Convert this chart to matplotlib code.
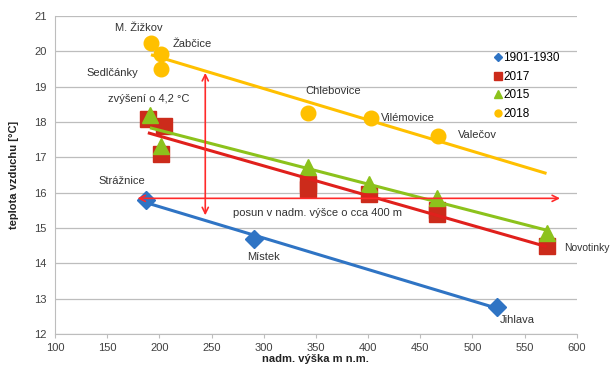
import numpy as np
import matplotlib
matplotlib.use("Agg")
import matplotlib.pyplot as plt
from matplotlib.lines import Line2D

plt.rcParams["font.family"] = ["Liberation Sans", "DejaVu Sans"]

# 1901-1930 (blue diamonds)
x_1901 = [187, 291, 524]
y_1901 = [15.8, 14.68, 12.76]
# 2017 (red squares)
x_2017 = [189, 204, 202, 342, 342, 401, 466, 466, 571]
y_2017 = [18.08, 17.88, 17.09, 16.25, 16.1, 15.96, 15.5, 15.4, 14.5]
# 2015 (green triangles)
x_2015 = [191, 202, 342, 401, 466, 571]
y_2015 = [18.2, 17.32, 16.72, 16.25, 15.85, 14.85]
# 2018 (yellow circles)
x_2018 = [192, 202, 202, 342, 403, 467]
y_2018 = [20.24, 19.92, 19.5, 18.25, 18.1, 17.6]
trend_end_2018 = 571  # Excel trendline extended forward

station_labels = [
    ("M. Žižkov", 180, 20.66, "center", 8),
    ("Žabčice", 213, 20.2, "left", 8),
    ("Sedlčánky", 155, 19.39, "center", 8),
    ("zvýšení o 4,2 °C", 190, 18.65, "center", 8),
    ("Strážnice", 164, 16.33, "center", 8),
    ("Místek", 300, 14.17, "center", 8),
    ("Jihlava", 543, 12.4, "center", 8),
    ("Novotinky", 588, 14.43, "left", 7.5),
    ("Chlebovice", 367, 18.87, "center", 8),
    ("Vilémovice", 412, 18.1, "left", 8),
    ("Valečov", 486, 17.63, "left", 8),
    ("posun v nadm. výšce o cca 400 m", 271, 15.42, "left", 8),
]

# red annotation arrows (data coords)
shift_arrow = ((179, 15.84), (584, 15.84))
rise_arrow = ((244, 15.36), (244, 19.39))

BLUE = "#2F74C4"
RED_M = "#CC2B1B"
RED_L = "#E0201C"
GREEN = "#8CC21C"
YELLOW = "#FFC000"
ARROW = "#FF2A2A"

fig = plt.figure(figsize=(6.11, 3.68), dpi=100)
ax = fig.add_axes([0.090, 0.0924, 0.854, 0.864])

series = [
    (x_1901, y_1901, "D", 9, BLUE, BLUE, None),
    (x_2017, y_2017, "s", 12, RED_M, RED_L, None),
    (x_2015, y_2015, "^", 12, GREEN, GREEN, None),
    (x_2018, y_2018, "o", 10.5, YELLOW, YELLOW, trend_end_2018),
]
for xs, ys, mk, ms, mc, lc, x_end in series:
    ax.plot(xs, ys, ls="none", marker=mk, ms=ms, color=mc, mec=mc, zorder=3)
    k, b = np.polyfit(xs, ys, 1)
    x0, x1 = min(xs), (x_end if x_end else max(xs))
    tx = np.array([x0, x1])
    ax.plot(tx, k * tx + b, color=lc, lw=2.2, zorder=4, solid_capstyle="butt")

for (a, b) in (shift_arrow, rise_arrow):
    ax.annotate("", xy=b, xytext=a, annotation_clip=False,
                arrowprops=dict(arrowstyle="<->", color=ARROW, lw=1.2,
                                mutation_scale=11, shrinkA=0, shrinkB=0),
                zorder=5)

for txt, x, y, ha, fs in station_labels:
    ax.text(x, y, txt, ha=ha, va="center", fontsize=fs, color="#333333",
            clip_on=False, zorder=6)

ax.set_xlim(100, 600)
ax.set_ylim(12, 21)
ax.set_xticks(np.arange(100, 601, 50))
ax.set_yticks(np.arange(12, 22, 1))
ax.grid(axis="y", color="#BDBDBD", lw=0.9)
ax.set_axisbelow(True)
for s in ("top", "right"):
    ax.spines[s].set_visible(False)
for s in ("left", "bottom"):
    ax.spines[s].set_color("#BDBDBD")
ax.tick_params(axis="both", labelsize=8, colors="#BDBDBD", labelcolor="#404040", length=3)
ax.tick_params(axis="y", length=0, pad=6)

ax.set_xlabel("nadm. výška m n.m.", fontsize=8, fontweight="bold", color="#222222", labelpad=1)
ax.set_ylabel("teplota vzduchu [°C]", fontsize=8, fontweight="bold", color="#222222", labelpad=11)

handles = [
    Line2D([], [], ls="none", marker="D", ms=4, color=BLUE),
    Line2D([], [], ls="none", marker="s", ms=6, color=RED_M),
    Line2D([], [], ls="none", marker="^", ms=6, color=GREEN),
    Line2D([], [], ls="none", marker="o", ms=5, color=YELLOW),
]
ax.legend(handles, ["1901-1930", "2017", "2015", "2018"], loc="upper left",
          bbox_to_anchor=(0.83, 0.905), frameon=False, fontsize=8.5,
          handlelength=0.6, handletextpad=0.2, labelspacing=0.55, borderpad=0)

fig.savefig("out.png", dpi=100)
